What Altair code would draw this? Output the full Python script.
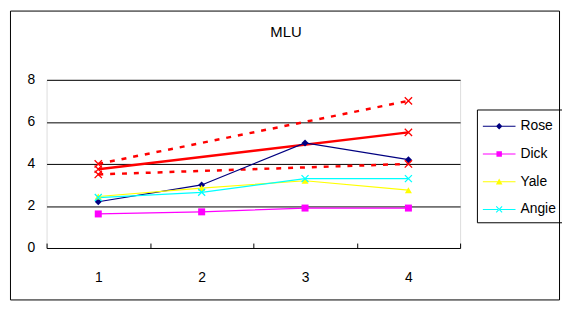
import altair as alt
import pandas as pd

categories = ["1", "2", "3", "4"]
series_names = ["Rose", "Dick", "Yale", "Angie"]
rose = [2.2, 3.0, 5.0, 4.2]
dick = [1.62, 1.72, 1.9, 1.9]
yale = [2.45, 2.85, 3.2, 2.75]
angie = [2.4, 2.65, 3.3, 3.3]
colors = ["#000080", "#FF00FF", "#FFFF00", "#00FFFF"]

red_x = ["1", "4"]
red_mid = [3.75, 5.5]
red_upper = [4.0, 7.0]
red_lower = [3.5, 4.0]
red_names = ["mid", "upper", "lower"]

chart_title = ["MLU"]

rows = []
for name, vals in zip(series_names, [rose, dick, yale, angie]):
    for c, v in zip(categories, vals):
        rows.append({"x": c, "y": v, "series": name})
df = pd.DataFrame(rows)

red_rows = []
for name, vals in zip(red_names, [red_mid, red_upper, red_lower]):
    for c, v in zip(red_x, vals):
        red_rows.append({"x": c, "y": v, "series": name})
rdf = pd.DataFrame(red_rows)
tdf = pd.DataFrame({"t": chart_title})

XPATH = "M-1,-1L1,1M-1,1L1,-1"
marker_shapes = ["diamond", "square", "triangle-up", XPATH]
LINE = "M-1,-0.045L2,-0.045L2,0.045L-1,0.045Z"
legend_shapes = [
    LINE + "M0.5,-0.3L0.8,0L0.5,0.3L0.2,0Z",
    LINE + "M0.25,-0.25L0.75,-0.25L0.75,0.25L0.25,0.25Z",
    LINE + "M0.5,-0.3L0.8,0.25L0.2,0.25Z",
    LINE + "M0.265,-0.305L0.805,0.235L0.735,0.305L0.195,-0.235Z"
    + "M0.265,0.305L0.805,-0.235L0.735,-0.305L0.195,0.235Z",
]

xenc = alt.X("x:O", sort=categories, scale=alt.Scale(domain=categories),
             axis=alt.Axis(title=None, tickBand="extent", tickSize=5, offset=-5,
                           domain=False, grid=False, labelAngle=0,
                           labelPadding=23, tickColor="black", labelFontSize=14,
                           labelColor="black", labelFont="Liberation Sans"))
yenc = alt.Y("y:Q", scale=alt.Scale(domain=[0, 8]),
             axis=alt.Axis(title=None, values=[0, 2, 4, 6, 8], ticks=False, domain=False,
                           grid=True, gridColor="black", gridWidth=1, gridOpacity=1,
                           labelPadding=12, labelFontSize=14, labelColor="black",
                           labelFont="Liberation Sans"))
cscale = alt.Scale(domain=series_names, range=colors)

lines = alt.Chart(df).mark_line(strokeWidth=1.2).encode(
    x=xenc, y=yenc,
    color=alt.Color("series:N", scale=cscale, legend=None),
    detail="series:N",
)
points = alt.Chart(df).mark_point(filled=True, size=50, opacity=1, strokeWidth=1).encode(
    x=xenc, y=yenc,
    color=alt.Color("series:N", scale=cscale, legend=None),
    shape=alt.Shape("series:N", scale=alt.Scale(domain=series_names, range=marker_shapes), legend=None),
)
# the X marker of Angie needs a stroke
angie_pts = alt.Chart(df[df.series == "Angie"]).mark_point(
    shape=XPATH, size=50, color="#00FFFF", filled=False, strokeWidth=1.3, opacity=1
).encode(x=xenc, y=yenc)

red_solid = alt.Chart(rdf[rdf.series == "mid"]).mark_line(color="#FF0000", strokeWidth=2.5).encode(
    x=xenc, y=yenc)
red_dashed = alt.Chart(rdf[rdf.series != "mid"]).mark_line(
    color="#FF0000", strokeWidth=2.5, strokeDash=[5, 7]).encode(
    x=xenc, y=yenc, detail="series:N")
red_pts = alt.Chart(rdf).mark_point(shape=XPATH, size=55, color="#FF0000", filled=False,
                                    strokeWidth=1.3, opacity=1).encode(x=xenc, y=yenc)

leg = alt.Legend(title=None, orient="none", legendX=435, legendY=30,
                 strokeColor="black", padding=6, symbolSize=484,
                 symbolStrokeWidth=0, symbolOpacity=1,
                 labelFontSize=14, labelFont="Liberation Sans",
                 labelColor="black", labelOffset=16, rowPadding=10)
legend_layer = alt.Chart(df).mark_point(opacity=0, filled=True).encode(
    x=xenc, y=yenc,
    color=alt.Color("series:N", scale=alt.Scale(domain=series_names, range=colors), legend=leg),
    shape=alt.Shape("series:N", scale=alt.Scale(domain=series_names, range=legend_shapes), legend=leg),
)

border = alt.Chart(tdf).mark_rect(fill=None, stroke="black", strokeWidth=1).encode(
    x=alt.value(-36.5), x2=alt.value(518.5), y=alt.value(-69.5), y2=alt.value(222.5))

title = alt.Chart(tdf).mark_text(fontSize=15, font="Liberation Sans", fontWeight="normal",
                                 color="black", baseline="middle", align="center").encode(
    text="t:N", x=alt.value(242), y=alt.value(-48))

chart = alt.layer(border, title, red_dashed, red_solid, lines, points, angie_pts, red_pts,
                  legend_layer).resolve_scale(
    shape="independent", color="independent"
).properties(
    width=418, height=170,
    padding={"left": 39, "top": 71, "right": 103, "bottom": 55},
    autosize=alt.AutoSizeParams(type="none"),
).configure_view(stroke="black", strokeWidth=1).configure(background="white")

chart.save("out.html", embed_options={"renderer": "svg", "actions": False})
